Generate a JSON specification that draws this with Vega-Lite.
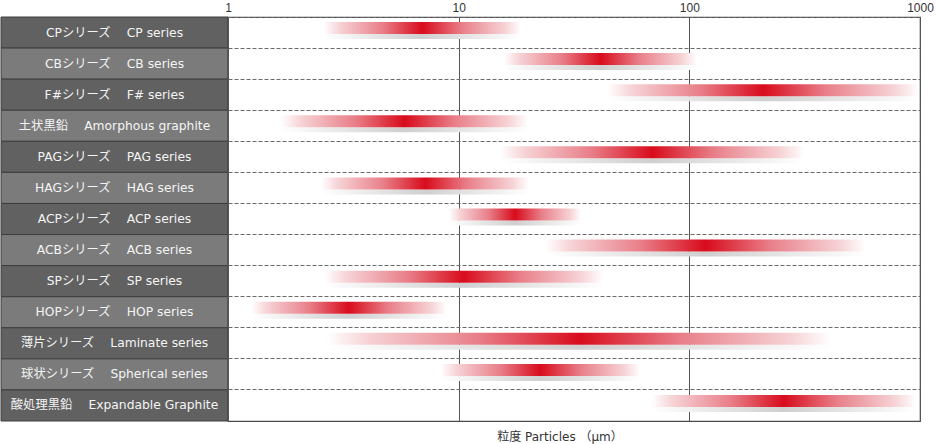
{
  "$schema": "https://vega.github.io/schema/vega-lite/v6.json",
  "background": "white",
  "padding": {"left": 0, "top": 0, "right": 0, "bottom": 0},
  "spacing": 0,
  "bounds": "flush",
  "config": {"view": {"stroke": null}},
  "data": {
    "values": [
      {"label": "CPシリーズ　 CP series", "lo": 2.6, "hi": 18.6},
      {"label": "CBシリーズ　 CB series", "lo": 15.7, "hi": 108},
      {"label": "F#シリーズ　 F# series", "lo": 44, "hi": 990},
      {"label": "土状黒鉛　 Amorphous graphite", "lo": 1.7, "hi": 20},
      {"label": "PAGシリーズ　 PAG series", "lo": 15.1, "hi": 316},
      {"label": "HAGシリーズ　 HAG series", "lo": 2.54, "hi": 20.2},
      {"label": "ACPシリーズ　 ACP series", "lo": 9.1, "hi": 33.9},
      {"label": "ACBシリーズ　 ACB series", "lo": 23.7, "hi": 582},
      {"label": "SPシリーズ　 SP series", "lo": 2.62, "hi": 42.3},
      {"label": "HOPシリーズ　 HOP series", "lo": 1.26, "hi": 8.87},
      {"label": "薄片シリーズ　 Laminate series", "lo": 2.7, "hi": 414},
      {"label": "球状シリーズ　 Spherical series", "lo": 8.35, "hi": 61.2},
      {"label": "酸処理黒鉛　 Expandable Graphite", "lo": 68.4, "hi": 961}
    ]
  },
  "hconcat": [
    {
      "width": 227,
      "height": 404,
      "layer": [
        {
          "mark": {"type": "rect", "stroke": "#3e3e3e", "strokeWidth": 1},
          "encoding": {
            "y": {"field": "label", "type": "nominal", "sort": null, "axis": null,
                  "scale": {"paddingInner": 0, "paddingOuter": 0}},
            "fill": {"field": "label", "type": "nominal", "sort": null, "legend": null,
                     "scale": {
                       "domain": ["CPシリーズ　 CP series", "CBシリーズ　 CB series", "F#シリーズ　 F# series", "土状黒鉛　 Amorphous graphite", "PAGシリーズ　 PAG series", "HAGシリーズ　 HAG series", "ACPシリーズ　 ACP series", "ACBシリーズ　 ACB series", "SPシリーズ　 SP series", "HOPシリーズ　 HOP series", "薄片シリーズ　 Laminate series", "球状シリーズ　 Spherical series", "酸処理黒鉛　 Expandable Graphite"],
                       "range": ["#616161", "#7b7b7b", "#616161", "#7b7b7b", "#616161", "#7b7b7b", "#616161", "#7b7b7b", "#616161", "#7b7b7b", "#616161", "#7b7b7b", "#616161"]
                     }}
          }
        },
        {
          "mark": {"type": "text", "color": "#f4f4f4", "font": "DejaVu Sans, Noto Sans CJK JP", "fontSize": 12.3, "baseline": "middle"},
          "encoding": {
            "y": {"field": "label", "type": "nominal", "sort": null, "axis": null,
                  "scale": {"paddingInner": 0, "paddingOuter": 0}},
            "text": {"field": "label"}
          }
        }
      ]
    },
    {
      "width": 692,
      "height": 404,
      "view": {"stroke": "#4a4a4a", "strokeWidth": 1.2},
      "title": {"text": "粒度 Particles （μm）", "orient": "bottom", "anchor": "middle", "fontSize": 12, "fontWeight": "normal", "color": "#333333", "font": "DejaVu Sans, Noto Sans CJK JP", "offset": 11, "dx": -14},
      "encoding": {
        "y": {"field": "label", "type": "nominal", "sort": null,
              "scale": {"paddingInner": 0, "paddingOuter": 0},
              "axis": {"title": null, "labels": false, "ticks": false, "domain": false, "grid": true, "bandPosition": 0, "gridDash": [4, 2], "gridColor": "#6a6a6a", "gridWidth": 1}},
        "x": {"field": "lo", "type": "quantitative",
              "scale": {"type": "log", "domain": [1, 1000], "nice": false},
              "axis": {"orient": "top", "values": [1, 10, 100, 1000], "format": "d", "title": null, "ticks": false, "domain": false, "labelFontSize": 12, "labelColor": "#333333", "labelFont": "Liberation Sans", "labelPadding": 3, "labelFlush": false, "grid": true, "gridColor": "#555555", "gridWidth": 1}},
        "x2": {"field": "hi"}
      },
      "layer": [
        {
          "mark": {"type": "bar", "height": 5, "yOffset": 4,
                   "color": {"gradient": "linear", "x1": 0, "x2": 1, "y1": 0, "y2": 0,
                             "stops": [
                               {"offset": 0, "color": "#ffffff"},
                               {"offset": 0.5, "color": "#cfcfcf"},
                               {"offset": 1, "color": "#ffffff"}
                             ]}}
        },
        {
          "mark": {"type": "bar", "height": 12, "yOffset": -4.5,
                   "color": {"gradient": "linear", "x1": 0, "x2": 1, "y1": 0, "y2": 0,
                             "stops": [
                               {"offset": 0, "color": "#ffffff"},
                               {"offset": 0.08, "color": "#f6d3d6"},
                               {"offset": 0.3, "color": "#e87e88"},
                               {"offset": 0.5, "color": "#d80c1c"},
                               {"offset": 0.7, "color": "#e87e88"},
                               {"offset": 0.92, "color": "#f6d3d6"},
                               {"offset": 1, "color": "#ffffff"}
                             ]}}
        }
      ]
    }
  ]
}
